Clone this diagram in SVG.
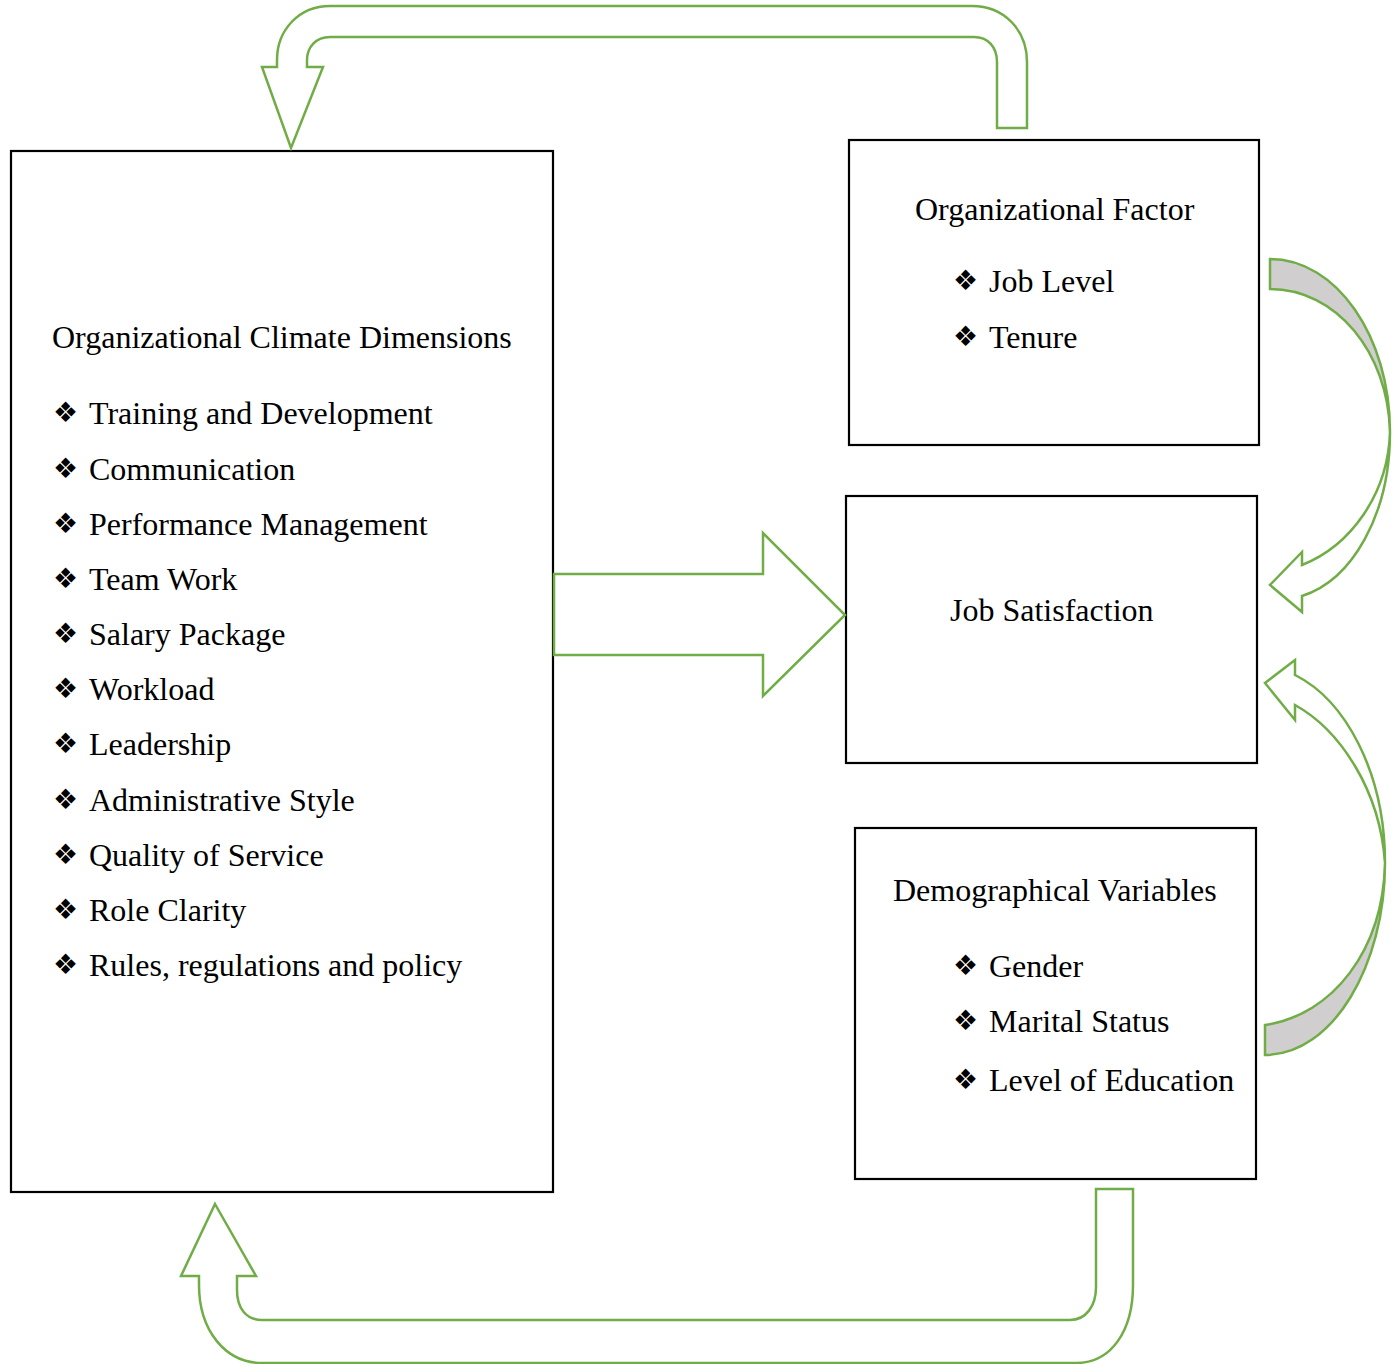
<svg xmlns="http://www.w3.org/2000/svg" width="1400" height="1364" viewBox="0 0 1400 1364">
<style>
.box{fill:#fff;stroke:#000;stroke-width:2.2}
.t{font-family:"Liberation Serif","Times New Roman",serif;font-size:32px;fill:#000}
.b{font-family:"DejaVu Sans",sans-serif;font-size:28px;fill:#000}
.ar{fill:#fff;stroke:#70AD47;stroke-width:2.5;stroke-linejoin:miter}
.gr{fill:#D0CECE;stroke:#70AD47;stroke-width:2.5}
</style>
<rect width="1400" height="1364" fill="#fff"/>
<g id="climate">
<rect class="box" x="11" y="151" width="542" height="1041"/>
<text class="t" x="52" y="348">Organizational Climate Dimensions</text>
<g class="b"><text x="53" y="422">❖</text><text x="53" y="478">❖</text><text x="53" y="533">❖</text><text x="53" y="588">❖</text><text x="53" y="643">❖</text><text x="53" y="698">❖</text><text x="53" y="753">❖</text><text x="53" y="809">❖</text><text x="53" y="864">❖</text><text x="53" y="919">❖</text><text x="53" y="974">❖</text></g>
<text class="t" x="89" y="424">Training and Development</text>
<text class="t" x="89" y="480">Communication</text>
<text class="t" x="89" y="535">Performance Management</text>
<text class="t" x="89" y="590">Team Work</text>
<text class="t" x="89" y="645">Salary Package</text>
<text class="t" x="89" y="700">Workload</text>
<text class="t" x="89" y="755">Leadership</text>
<text class="t" x="89" y="811">Administrative Style</text>
<text class="t" x="89" y="866">Quality of Service</text>
<text class="t" x="89" y="921">Role Clarity</text>
<text class="t" x="89" y="976">Rules, regulations and policy</text>
</g>
<g id="orgfactor">
<rect class="box" x="849" y="140" width="410" height="305"/>
<text class="t" x="915" y="220">Organizational Factor</text>
<text class="b" x="953" y="290">❖</text><text class="t" x="989" y="292">Job Level</text>
<text class="b" x="953" y="346">❖</text><text class="t" x="989" y="348">Tenure</text>
</g>
<g id="jobsat">
<rect class="box" x="846" y="496" width="411" height="267"/>
<text class="t" x="950" y="621">Job Satisfaction</text>
</g>
<g id="demo">
<rect class="box" x="855" y="828" width="401" height="351"/>
<text class="t" x="893" y="901">Demographical Variables</text>
<text class="b" x="953" y="975">❖</text><text class="t" x="989" y="977">Gender</text>
<text class="b" x="953" y="1030">❖</text><text class="t" x="989" y="1032">Marital Status</text>
<text class="b" x="953" y="1089">❖</text><text class="t" x="989" y="1091">Level of Education</text>
</g>
<g id="connectors">
<path class="ar" d="M277,67 L277,60 C277,30 299,6 330,6 L972,6 C1004,6 1027,30 1027,62 L1027,128 L997,128 L997,62 C997,47 988,37 974,37 L330,37 C316,37 307,47 307,60 L307,67 L323,67 L291,148 L262,67 Z"/>
<path class="ar" d="M215,1204 L256,1276 L237,1276 L237,1290 C237,1308 246,1320 262,1320 L1070,1320 C1086,1320 1096,1306 1096,1287 L1096,1189 L1133,1189 L1133,1285 C1133,1330 1112,1363 1076,1363 L262,1363 C225,1363 199,1330 199,1285 L199,1276 L181,1276 Z"/>
<path class="ar" d="M554,574 L763,574 L763,533 L845,615 L763,696 L763,655 L554,655 Z"/>
<path class="gr" d="M1270,259 C1336,259 1390,336 1390,432 C1388,352 1336,289 1270,289 Z"/>
<path class="ar" d="M1390,432 C1390,515 1352,580 1302,596 L1302,612 L1270,585 L1302,552 L1302,565 C1350,546 1388,495 1390,432 Z"/>
<path class="gr" d="M1385,863 C1383,950 1333,1015 1265,1025 L1265,1055 C1333,1055 1385,965 1385,863 Z"/>
<path class="ar" d="M1385,863 C1385,772 1345,700 1295,675 L1295,660 L1265,683 L1295,720 L1295,705 C1340,730 1380,790 1385,863 Z"/>
</g>
</svg>
